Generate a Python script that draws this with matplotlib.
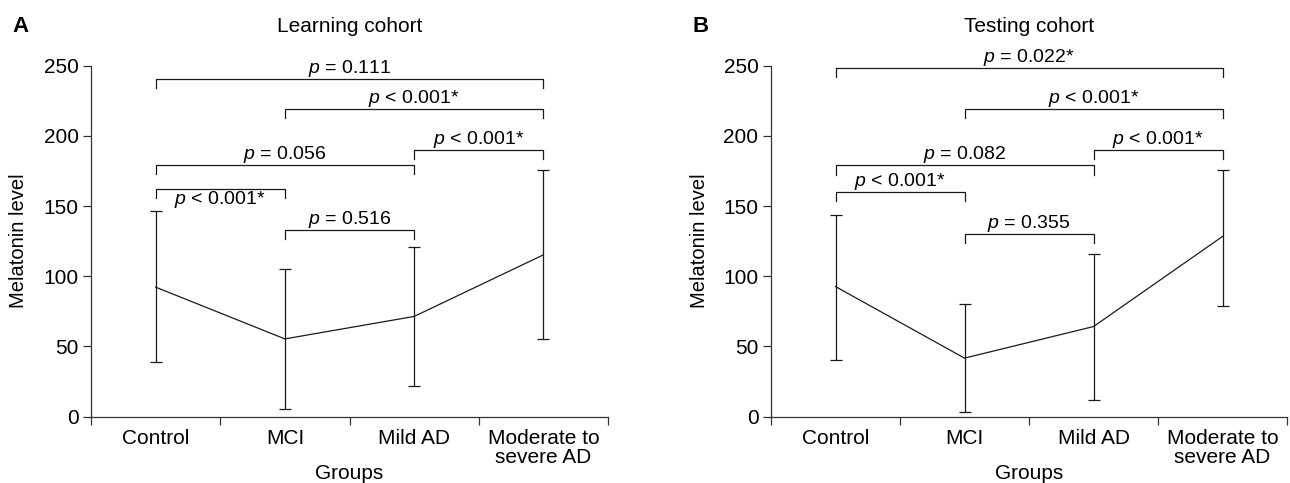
import numpy as np
import matplotlib
matplotlib.use('Agg')
import matplotlib.pyplot as plt

plt.rcParams['font.family'] = ['Liberation Sans', 'DejaVu Sans']
plt.rcParams['mathtext.fontset'] = 'custom'
plt.rcParams['mathtext.rm'] = 'Liberation Sans'
plt.rcParams['mathtext.it'] = 'Liberation Sans:italic'

FS = 14
TICK_FS = 15
LINE_C = '#1a1a1a'
SPINE_C = '#333333'

groups = ['Control', 'MCI', 'Mild AD', 'Moderate to\nsevere AD']

# learning cohort (A)
a_mean = [92.2, 55.3, 71.3, 115.2]
a_upper = [146.6, 105.0, 121.1, 175.8]
a_lower = [38.7, 5.2, 21.4, 55.3]

# testing cohort (B)
b_mean = [92.6, 41.6, 64.1, 128.3]
b_upper = [143.7, 80.3, 115.7, 175.8]
b_lower = [40.4, 3.1, 11.9, 78.9]

# significance brackets (group index pairs)
pairs = [(0, 3), (1, 3), (2, 3), (0, 2), (0, 1), (1, 2)]
a_heights = [240.5, 219.2, 190.0, 179.3, 162.2, 133.0]
a_labels = ['$p$ = 0.111', '$p$ < 0.001*', '$p$ < 0.001*', '$p$ = 0.056',
            '$p$ < 0.001*', '$p$ = 0.516']
a_below = [False, False, False, False, True, False]
b_heights = [248.2, 219.2, 190.0, 178.9, 159.9, 130.2]
b_labels = ['$p$ = 0.022*', '$p$ < 0.001*', '$p$ < 0.001*', '$p$ = 0.082',
            '$p$ < 0.001*', '$p$ = 0.355']
b_below = [False] * 6


def panel(ax, mean, upper, lower, heights, labels, below, title):
    x = np.arange(len(groups)) + 0.5
    mean = np.array(mean)
    yerr = [mean - np.array(lower), np.array(upper) - mean]
    ax.errorbar(x, mean, yerr=yerr, color=LINE_C, lw=0.9, elinewidth=0.9,
                capsize=4, capthick=0.9)

    drop = 6.6
    for (i, j), h, lab, bel in zip(pairs, heights, labels, below):
        ax.plot([x[i], x[i], x[j], x[j]], [h - drop, h, h, h - drop],
                color=LINE_C, lw=0.9, clip_on=False)
        if bel:
            ax.text((x[i] + x[j]) / 2, h - 7.8, lab, ha='center', va='center',
                    fontsize=FS)
        else:
            ax.text((x[i] + x[j]) / 2, h + 7.6, lab, ha='center', va='center',
                    fontsize=FS, clip_on=False)

    ax.set_xlim(0, 4)
    ax.set_ylim(0, 250)
    ax.set_yticks(np.arange(0, 251, 50))
    ax.set_xticks([0, 1, 2, 3, 4])
    ax.set_xticklabels([])
    ax.set_xticks(x, minor=True)
    ax.set_xticklabels(groups, minor=True, fontsize=TICK_FS, linespacing=1.0)
    ax.tick_params(axis='x', which='minor', length=0, pad=9)
    ax.tick_params(axis='x', which='major', length=6, width=0.9, color=SPINE_C)
    ax.tick_params(axis='y', length=6, width=0.9, color=SPINE_C,
                   labelsize=TICK_FS, pad=3)
    for s in ['top', 'right']:
        ax.spines[s].set_visible(False)
    for s in ['left', 'bottom']:
        ax.spines[s].set_color(SPINE_C)
        ax.spines[s].set_linewidth(0.9)

    ax.set_ylabel('Melatonin level', fontsize=FS + 0.5)
    ax.yaxis.set_label_coords(-0.121, 0.5)
    ax.set_xlabel('Groups', fontsize=TICK_FS)
    ax.xaxis.set_label_coords(0.5, -0.135)
    ax.set_title(title, fontsize=TICK_FS, pad=24)


fig = plt.figure(figsize=(12.9, 4.83), dpi=100)
axA = fig.add_axes([91 / 1290, 66.5 / 483, 517 / 1290, 350.8 / 483])
axB = fig.add_axes([771 / 1290, 66.5 / 483, 516 / 1290, 350.8 / 483])

panel(axA, a_mean, a_upper, a_lower, a_heights, a_labels, a_below, 'Learning cohort')
panel(axB, b_mean, b_upper, b_lower, b_heights, b_labels, b_below, 'Testing cohort')

fig.text(12 / 1290, 1 - 26 / 483, 'A', fontsize=16, fontweight='bold', va='center')
fig.text(692 / 1290, 1 - 26 / 483, 'B', fontsize=16, fontweight='bold', va='center')

fig.savefig('out.png', dpi=100)
